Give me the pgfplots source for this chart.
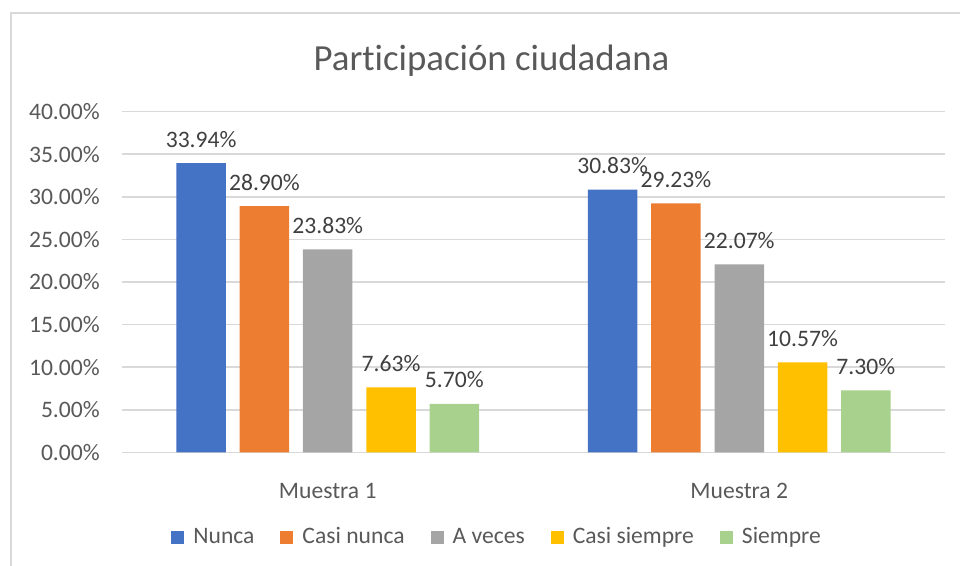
\documentclass[border=0pt]{standalone}
\usepackage{pgfplots}
\pgfplotsset{compat=1.18}
\usepackage{fontspec}
\setmainfont{Carlito}[Ligatures=NoCommon]
\definecolor{cNunca}{HTML}{4472C4}
\definecolor{cCasiNunca}{HTML}{ED7D31}
\definecolor{cAVeces}{HTML}{A5A5A5}
\definecolor{cCasiSiempre}{HTML}{FFC000}
\definecolor{cSiempre}{HTML}{A9D18E}
\definecolor{txt}{HTML}{595959}
\definecolor{lbl}{HTML}{404040}
\definecolor{grid}{HTML}{D9D9D9}
\begin{document}
\begin{tikzpicture}
\begin{axis}[
  name=ax,
  scale only axis,
  width=411.5pt, height=170.5pt,
  ybar=6.9pt, bar width=24.75pt,
  xmin=-0.5, xmax=1.5,
  ymin=0, ymax=40,
  xtick={0,1}, xticklabels={Muestra 1, Muestra 2},
  ytick={0,5,...,40},
  yticklabel={\pgfmathprintnumber[fixed,fixed zerofill,precision=2]{\tick}\%},
  /pgf/number format/assume math mode=true,
  axis line style={draw=none},
  major tick style={draw=none},
  ymajorgrids, grid style={color=grid, line width=0.8pt},
  ticklabel style={font=\fontsize{11.8}{14}\selectfont, text=txt},
  yticklabel style={xshift=-7.6pt},
  xticklabel style={yshift=-7.6pt},
  nodes near coords={\pgfmathprintnumber[fixed,fixed zerofill,precision=2]{\pgfplotspointmeta}\%},
  every node near coord/.append style={font=\fontsize{11.8}{14}\selectfont, text=lbl, anchor=base, yshift=8pt},
  clip=false,
  legend columns=5,
  legend style={draw=none, fill=none, at={(rel axis cs:0.457,-0.248)}, anchor=center,
    font=\fontsize{11.8}{14}\selectfont, text=txt,
    /tikz/every odd column/.append style={column sep=2.5pt},
    /tikz/every even column/.append style={column sep=11pt}},
  legend image code/.code={\fill[#1] (0pt,-3.25pt) rectangle (6.5pt,3.25pt);},
]
\addplot[fill=cNunca, draw=none] coordinates {(0,33.94) (1,30.83)};
\addplot[fill=cCasiNunca, draw=none] coordinates {(0,28.90) (1,29.23)};
\addplot[fill=cAVeces, draw=none] coordinates {(0,23.83) (1,22.07)};
\addplot[fill=cCasiSiempre, draw=none] coordinates {(0,7.63) (1,10.57)};
\addplot[fill=cSiempre, draw=none] coordinates {(0,5.70) (1,7.30)};
\legend{Nunca, Casi nunca, A veces, Casi siempre, Siempre}
\node[anchor=base, font=\fontsize{18.4}{22}\selectfont, text=txt] at (rel axis cs:0.449,1.119) {Participación ciudadana};
\end{axis}
\pgfresetboundingbox
\path[use as bounding box] ([shift={(-61pt,-56.75pt)}]ax.south west) rectangle ([shift={(419pt,226.25pt)}]ax.south west);
\draw[color=grid, line width=0.8pt] ([shift={(425pt,219.75pt)}]ax.south west) -- ([shift={(-55.5pt,219.75pt)}]ax.south west) -- ([shift={(-55.5pt,-60pt)}]ax.south west);
\end{tikzpicture}
\end{document}
